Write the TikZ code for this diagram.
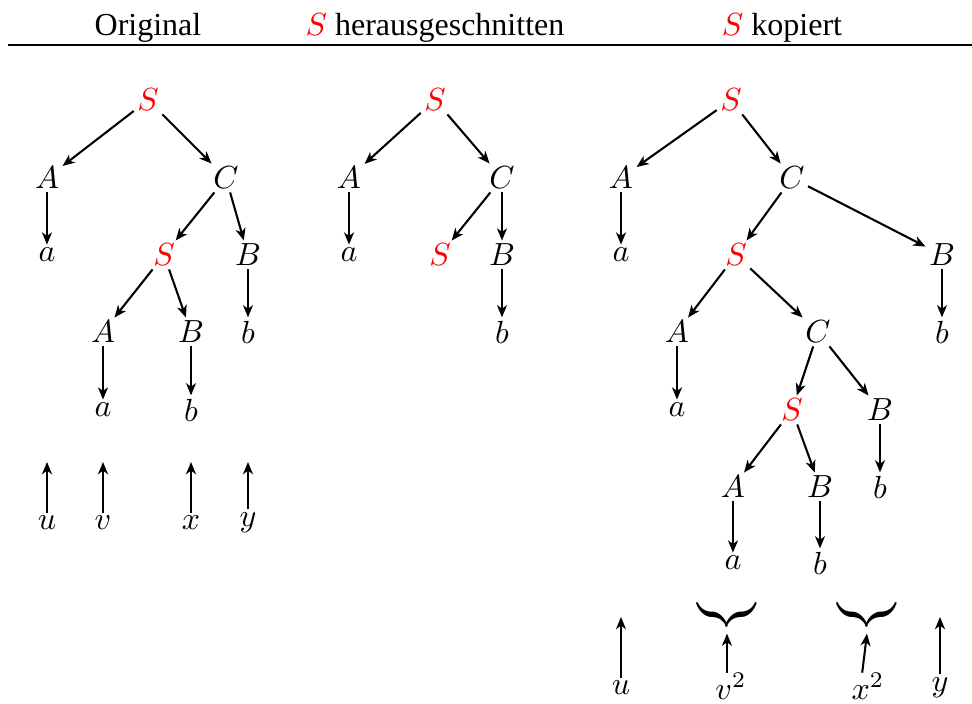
\documentclass[tikz,border=0pt]{standalone}
\usepackage{fontspec}
\setmainfont{Liberation Serif}
\usetikzlibrary{arrows.meta}
\begin{document}
\begin{tikzpicture}[x=0.3125pt,y=-0.3125pt,
  sym/.style={inner sep=0.9pt},
  red sym/.style={sym,text=red},
  arr/.style={-{Stealth[length=3.8pt,width=3.1pt,inset=1.1pt]},line width=0.65pt},
  hdr/.style={inner sep=0pt,anchor=base},
  bracebox/.style={inner sep=0pt,xscale=1.02,yscale=1.4}]
\useasboundingbox (0,0) rectangle (972,704);
% header
\node[hdr] (h1) at (148,35) {Original};
\node[hdr] (h2) at (435,35) {\textcolor{red}{$S$} herausgeschnitten};
\node[hdr] (h3) at (782,35) {\textcolor{red}{$S$} kopiert};
\draw[line width=0.8pt] (8,45) -- (972,45);

% ---------- Tree 1 ----------
\node[red sym] (aS) at (148,100) {$S$};
\node[sym] (aA) at (47,178) {$A$};
\node[sym] (aC) at (226,178) {$C$};
\node[sym] (aa) at (47,255) {$a$};
\node[red sym] (aS2) at (164,255) {$S$};
\node[sym] (aB) at (248,255) {$B$};
\node[sym] (aA2) at (103,332) {$A$};
\node[sym] (aB2) at (191,332) {$B$};
\node[sym] (ab) at (248,332) {$b$};
\node[sym] (aa2) at (103,410) {$a$};
\node[sym] (ab2) at (191,410) {$b$};
\draw[arr] (aS) -- (aA);
\draw[arr] (aS) -- (aC);
\draw[arr] (aA) -- (aa);
\draw[arr] (aC) -- (aS2);
\draw[arr] (aC) -- (aB);
\draw[arr] (aS2) -- (aA2);
\draw[arr] (aS2) -- (aB2);
\draw[arr] (aB) -- (ab);
\draw[arr] (aA2) -- (aa2);
\draw[arr] (aB2) -- (ab2);
\node[sym] (au) at (47,523) {$u$};
\node[sym] (av) at (103,523) {$v$};
\node[sym] (ax) at (191,523) {$x$};
\node[sym] (ay) at (248,523) {$y$};
\coordinate (aut) at (47,462);
\coordinate (avt) at (103,462);
\coordinate (axt) at (191,462);
\coordinate (ayt) at (248,462);
\draw[arr] (au) -- (aut);
\draw[arr] (av) -- (avt);
\draw[arr] (ax) -- (axt);
\draw[arr] (ay) -- (ayt);

% ---------- Tree 2 ----------
\node[red sym] (bS) at (435,100) {$S$};
\node[sym] (bA) at (349,178) {$A$};
\node[sym] (bC) at (502,178) {$C$};
\node[sym] (ba) at (349,255) {$a$};
\node[red sym] (bS2) at (440,255) {$S$};
\node[sym] (bB) at (502,255) {$B$};
\node[sym] (bb) at (502,332) {$b$};
\draw[arr] (bS) -- (bA);
\draw[arr] (bS) -- (bC);
\draw[arr] (bA) -- (ba);
\draw[arr] (bC) -- (bS2);
\draw[arr] (bC) -- (bB);
\draw[arr] (bB) -- (bb);

% ---------- Tree 3 ----------
\node[red sym] (cS) at (731,100) {$S$};
\node[sym] (cA) at (621,178) {$A$};
\node[sym] (cC) at (792,178) {$C$};
\node[sym] (ca) at (621,255) {$a$};
\node[red sym] (cS2) at (736,255) {$S$};
\node[sym] (cB) at (942,255) {$B$};
\node[sym] (cA2) at (677,332) {$A$};
\node[sym] (cC2) at (818,332) {$C$};
\node[sym] (cb) at (942,332) {$b$};
\node[sym] (ca2) at (677,410) {$a$};
\node[red sym] (cS3) at (792,410) {$S$};
\node[sym] (cB2) at (880,410) {$B$};
\node[sym] (cA3) at (733,487) {$A$};
\node[sym] (cB3) at (820,487) {$B$};
\node[sym] (cb2) at (880,487) {$b$};
\node[sym] (ca3) at (733,563) {$a$};
\node[sym] (cb3) at (820,563) {$b$};
\draw[arr] (cS) -- (cA);
\draw[arr] (cS) -- (cC);
\draw[arr] (cA) -- (ca);
\draw[arr] (cC) -- (cS2);
\draw[arr] (cC) -- (cB);
\draw[arr] (cB) -- (cb);
\draw[arr] (cS2) -- (cA2);
\draw[arr] (cS2) -- (cC2);
\draw[arr] (cA2) -- (ca2);
\draw[arr] (cC2) -- (cS3);
\draw[arr] (cC2) -- (cB2);
\draw[arr] (cB2) -- (cb2);
\draw[arr] (cS3) -- (cA3);
\draw[arr] (cS3) -- (cB3);
\draw[arr] (cA3) -- (ca3);
\draw[arr] (cB3) -- (cb3);
% bottom row
\node[sym] (cu) at (621,688) {$u$};
\node[sym] (cv) at (731,686) {$v^2$};
\node[sym] (cx) at (868,686) {$x^2$};
\node[sym] (cy) at (940,688) {$y$};
\node[bracebox] (br1) at (727,615) {$\underbrace{\hspace{2pt}}$};
\node[bracebox] (br2) at (867,615) {$\underbrace{\hspace{2pt}}$};
\coordinate (cut) at (621,617);
\coordinate (cyt) at (940,617);
\draw[arr] (cu) -- (cut);
\draw[arr] (cy) -- (cyt);
\draw[arr] ([yshift=-1pt]cv.north -| br1.south) -- ([yshift=-0.5pt]br1.south);
\draw[arr] ([xshift=-1.5pt,yshift=-1pt]cx.north -| br2.south) -- ([yshift=-0.5pt]br2.south);
\end{tikzpicture}
\end{document}
